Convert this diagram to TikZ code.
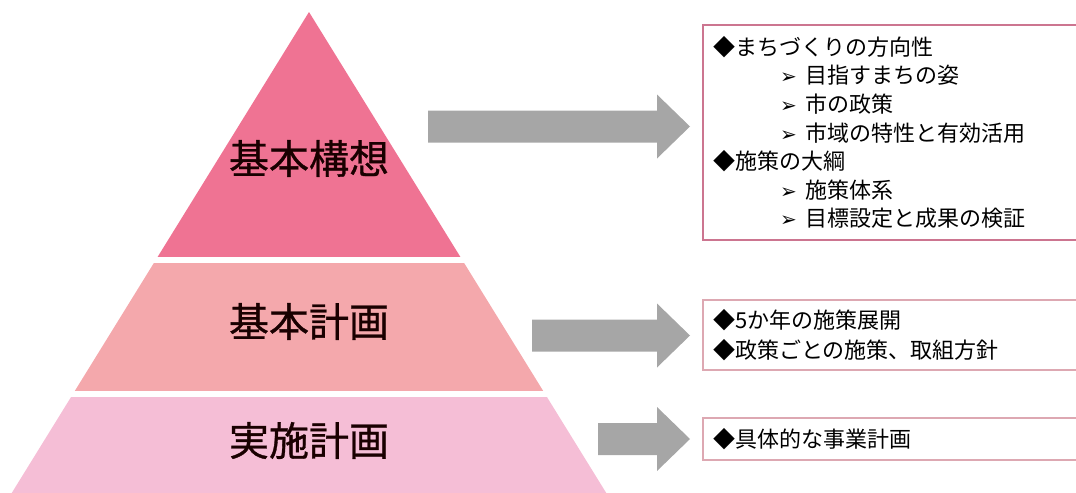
\documentclass[tikz,border=0pt]{standalone}
\usepackage{fontspec}
\newfontfamily\jpfont{Noto Sans CJK JP}
\newfontfamily\jplbl[FakeBold=0.8]{Noto Sans CJK JP}
\newfontfamily\dvfont{DejaVu Sans}
\usetikzlibrary{positioning}

\definecolor{tierA}{HTML}{EF7393}
\definecolor{tierB}{HTML}{F4A8AC}
\definecolor{tierC}{HTML}{F5BED6}
\definecolor{arrowgray}{HTML}{A6A6A6}
\definecolor{edgeA}{HTML}{CC7590}
\definecolor{edgeB}{HTML}{DDA8B2}

% block arrow: start x, middle y
\newcommand{\bigarrow}[2]{%
  \fill[arrowgray] (#1,#2-16) -- (657,#2-16) -- (657,#2-32) -- (690,#2)
    -- (657,#2+32) -- (657,#2+16) -- (#1,#2+16) -- cycle;}
\newcommand{\subpt}{\hspace*{50.25pt}\makebox[18.75pt][l]{\dvfont\fontsize{15}{15}\selectfont ➢}}

\begin{document}
\begin{tikzpicture}[x=0.75pt,y=-0.75pt,
    tierlbl/.style={font=\jplbl\fontsize{30}{30}\selectfont,text=black!90!red},
    infobox/.style={draw,fill=white,anchor=north west,outer sep=0pt,inner xsep=7.5pt,
      text width=282.75pt,align=left,font=\jpfont\fontsize{16.5}{21.45}\selectfont}]

  \useasboundingbox (0,0) rectangle (1076,493);

  \coordinate (apex) at (309,12);
  \coordinate (bl) at (7.4,500);
  \coordinate (br) at (610.6,500);

  \begin{scope}
    \clip (apex) -- (bl) -- (br) -- cycle;
    \fill[tierA] (0,0) rectangle (620,257);
    \fill[tierB] (0,263) rectangle (620,391);
    \fill[tierC] (0,397) rectangle (620,500);
  \end{scope}

  \node[tierlbl] (vision) at (309,158.5) {基本構想};
  \node[tierlbl] (basic) at (309,321.5) {基本計画};
  \node[tierlbl] (action) at (309,440.5) {実施計画};

  \bigarrow{428}{126.5}
  \bigarrow{532}{335.5}
  \bigarrow{598}{439}

  \node[infobox,draw=edgeA,line width=1.5pt,minimum height=161.25pt] (visionbox) at (703,25)
    {◆まちづくりの方向性\\
     \subpt 目指すまちの姿\\
     \subpt 市の政策\\
     \subpt 市域の特性と有効活用\\
     ◆施策の大綱\\
     \subpt 施策体系\\
     \subpt 目標設定と成果の検証};
  \node[infobox,draw=edgeB,line width=1.1pt,minimum height=52.5pt,
    font=\jpfont\fontsize{16.5}{22.5}\selectfont] (basicbox) at (703,300)
    {◆5か年の施策展開\\
     ◆政策ごとの施策、取組方針};
  \node[infobox,draw=edgeB,line width=1.1pt,minimum height=31.5pt] (actionbox) at (703,418)
    {◆具体的な事業計画};

\end{tikzpicture}
\end{document}
